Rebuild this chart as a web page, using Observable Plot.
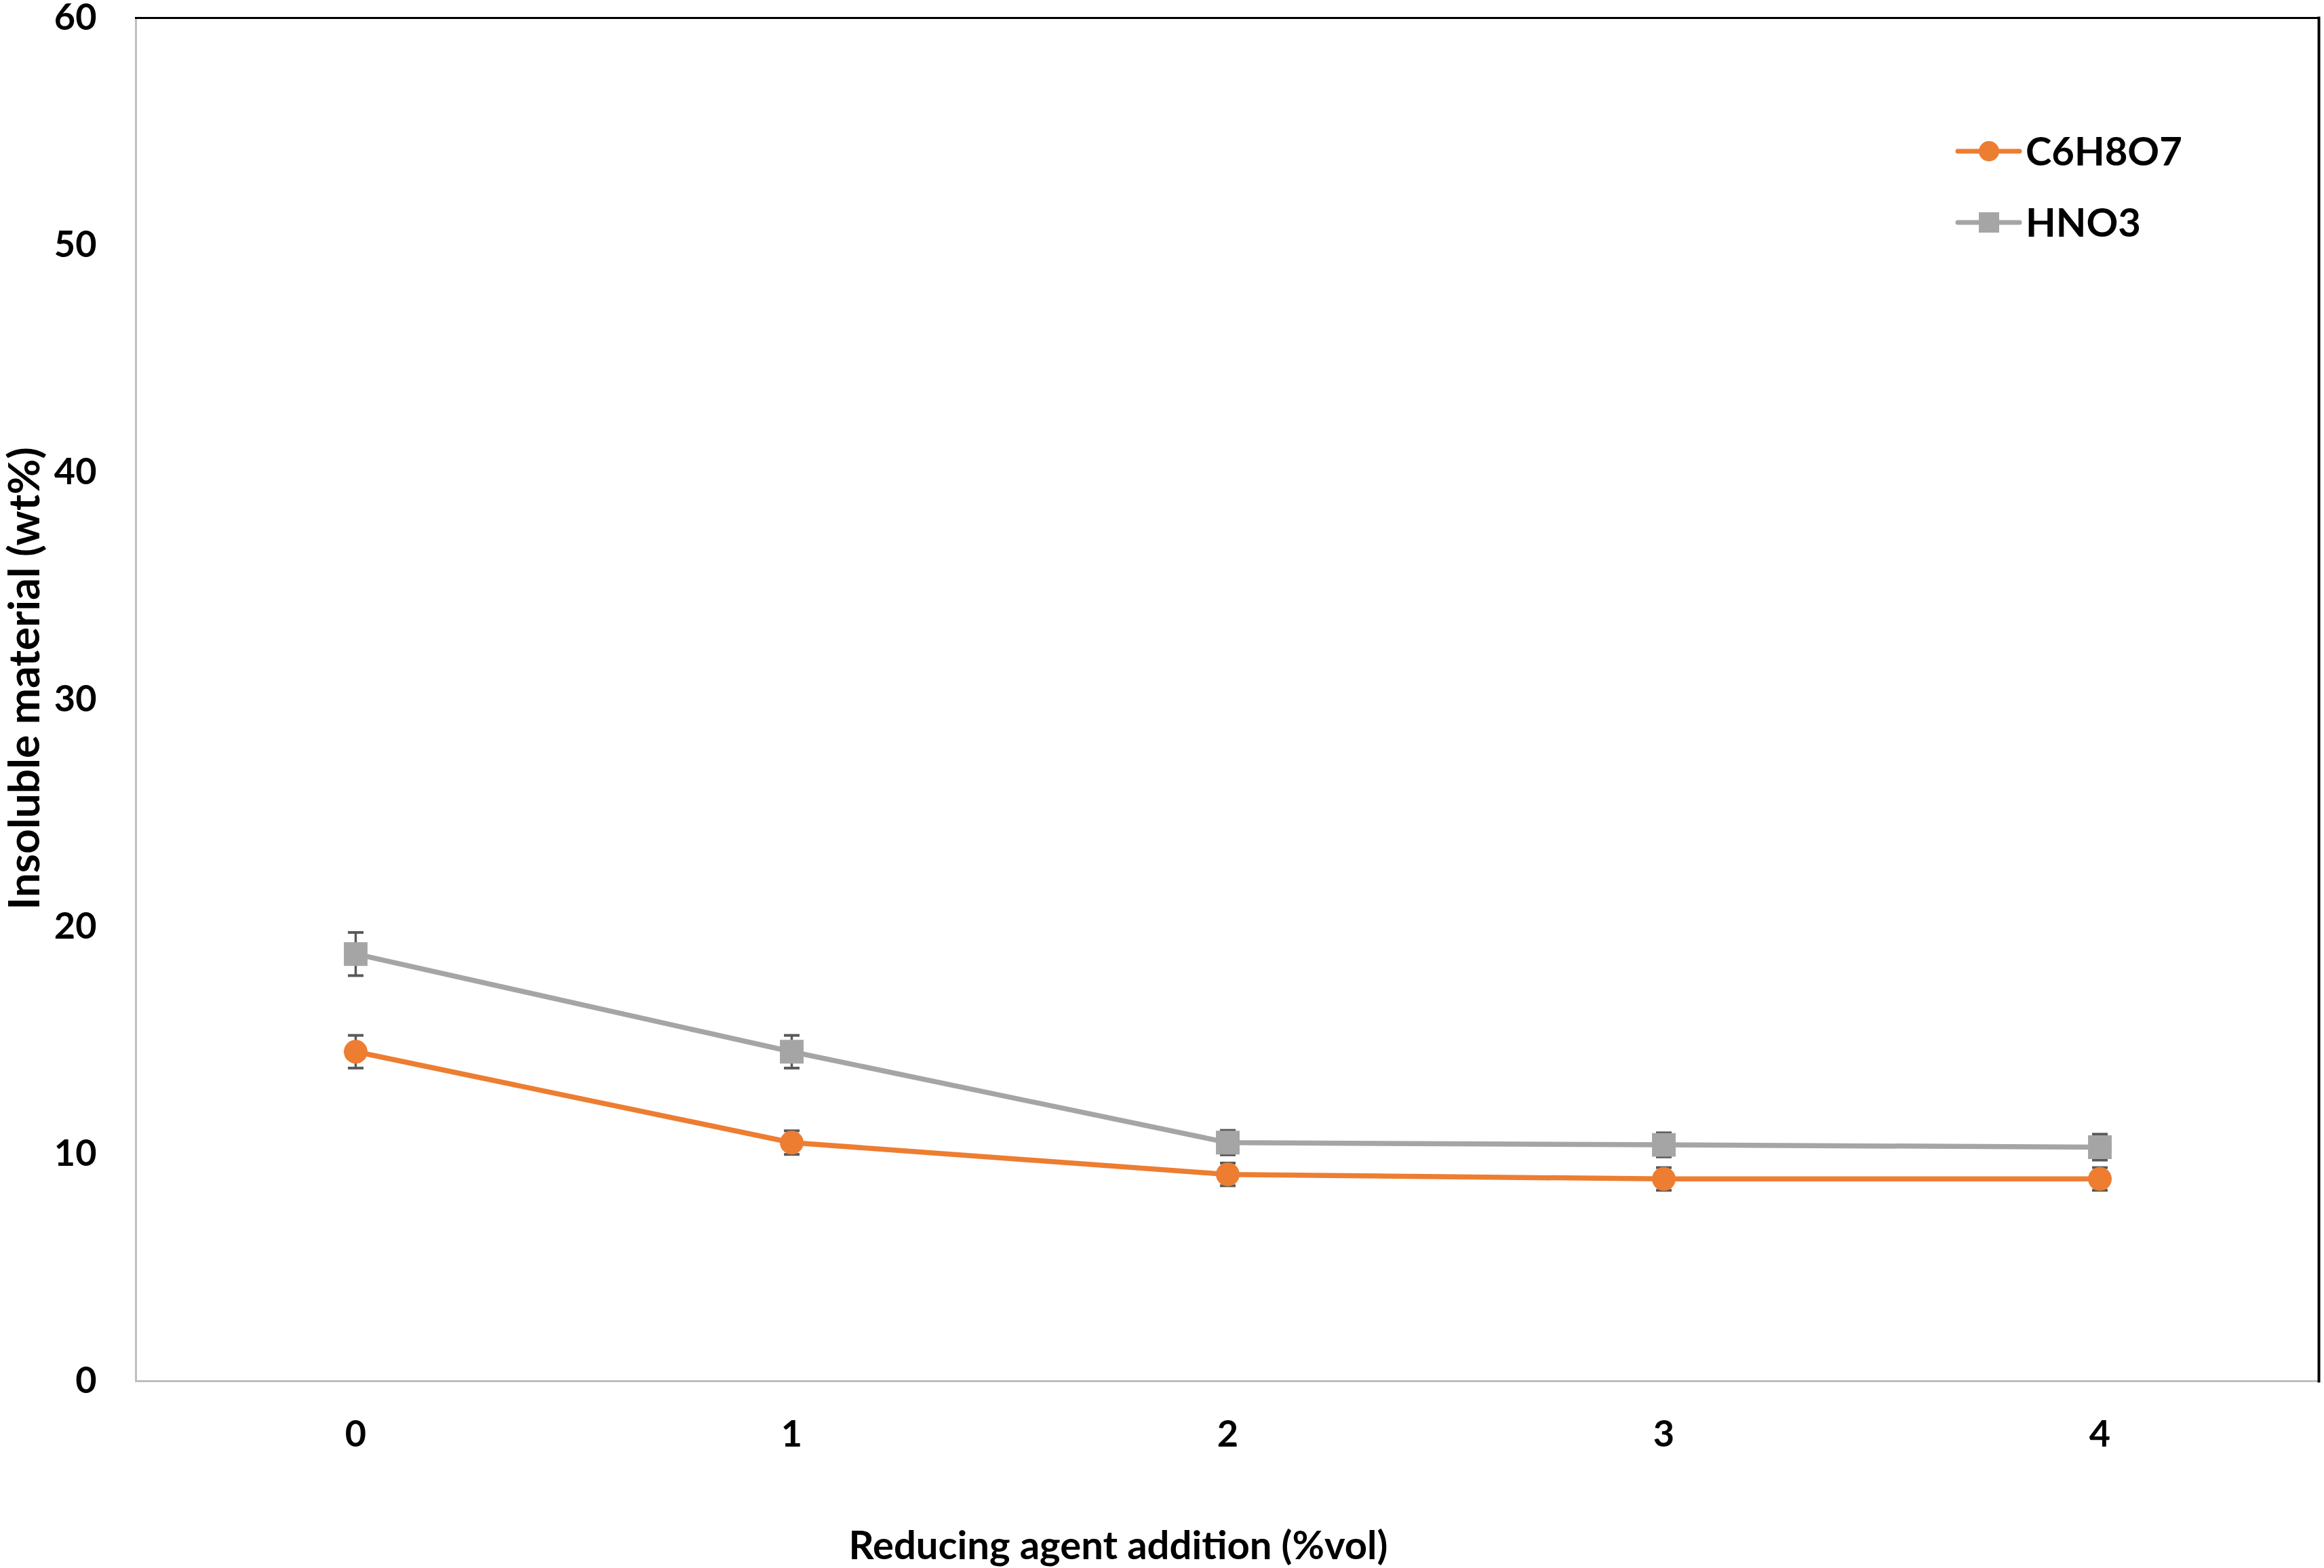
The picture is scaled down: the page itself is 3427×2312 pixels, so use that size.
<!DOCTYPE html>
<html><head><meta charset="utf-8">
<script src="https://cdn.jsdelivr.net/npm/d3@7"></script>
<script src="https://cdn.jsdelivr.net/npm/@observablehq/plot@0.6"></script>
<style>
html,body{margin:0;padding:0;background:#fff;}
#wrap{position:relative;width:3427px;height:2312px;font-family:Lato,"Open Sans",sans-serif;font-weight:700;}
#legend{position:absolute;left:0;top:0;}
</style></head><body><div id="wrap"></div>
<script>
const doses = [0, 1, 2, 3, 4];
const seriesNames = ["C6H8O7", "HNO3"];
const c6h8o7 = [14.5, 10.5, 9.1, 8.9, 8.9];
const c6h8o7Err = [0.72, 0.52, 0.5, 0.5, 0.5];
const hno3 = [18.8, 14.5, 10.5, 10.4, 10.3];
const hno3Err = [0.95, 0.72, 0.54, 0.53, 0.57];
const yTicks = [0, 10, 20, 30, 40, 50, 60];
const xLabel = "Reducing agent addition (%vol)";
const yLabel = "Insoluble material (wt%)";
const colors = ["#ED7D31", "#A5A5A5"];
const errColor = "#595959";

const rows = [];
seriesNames.forEach((s, i) => {
  const v = i ? hno3 : c6h8o7;
  const e = i ? hno3Err : c6h8o7Err;
  doses.forEach((d, j) => rows.push({series: s, x: d, y: v[j], e: e[j]}));
});

const cap = {draw(ctx, size) { const w = Math.sqrt(size / Math.PI); ctx.moveTo(-w, 0); ctx.lineTo(w, 0); }};
const font = "Lato, 'Open Sans', sans-serif";

const chart = Plot.plot({
  width: 3427, height: 2312,
  marginLeft: 200, marginRight: 8, marginTop: 26, marginBottom: 276,
  style: {fontFamily: font, fontWeight: 700, fontSize: "54px", color: "#000", background: "#fff", overflow: "visible"},
  x: {type: "point", domain: doses, padding: 0.5},
  y: {domain: [0, 60]},
  color: {domain: seriesNames, range: colors},
  marks: [
    Plot.frame({anchor: "left", stroke: "#BFBFBF", strokeWidth: 3}),
    Plot.frame({anchor: "bottom", stroke: "#BFBFBF", strokeWidth: 3}),
    Plot.frame({anchor: "top", stroke: "#000", strokeWidth: 3}),
    Plot.frame({anchor: "right", stroke: "#000", strokeWidth: 4}),
    Plot.axisX({ticks: doses, tickSize: 0, tickPadding: 58, label: null}),
    Plot.axisY({ticks: yTicks, tickSize: 0, tickPadding: 58, label: null}),
    Plot.line(rows, {x: "x", y: "y", z: "series", stroke: "series", strokeWidth: 7.5}),
    Plot.ruleX(rows, {x: "x", y1: d => d.y - d.e, y2: d => d.y + d.e, stroke: errColor, strokeWidth: 3.5}),
    Plot.dot(rows, {x: "x", y: d => d.y + d.e, symbol: cap, r: 11.5, stroke: errColor, strokeWidth: 4}),
    Plot.dot(rows, {x: "x", y: d => d.y - d.e, symbol: cap, r: 11.5, stroke: errColor, strokeWidth: 4}),
    Plot.dot(rows.filter(d => d.series === seriesNames[0]), {x: "x", y: "y", symbol: "circle", r: 17.5, fill: "series", stroke: null}),
    Plot.dot(rows.filter(d => d.series === seriesNames[1]), {x: "x", y: "y", symbol: "square", r: 19.7, fill: "series", stroke: null}),
    Plot.text([xLabel], {text: d => d, frameAnchor: "bottom", textAnchor: "middle", lineAnchor: "middle", dx: -161, dy: 244, fontSize: 58, fontWeight: 700}),
    Plot.text([yLabel], {text: d => d, frameAnchor: "left", textAnchor: "middle", lineAnchor: "middle", rotate: -90, dx: -163, dy: -31, fontSize: 64, fontWeight: 700})
  ]
});
const wrap = document.getElementById("wrap");
wrap.appendChild(chart);

// legend
const lg = d3.select(wrap).append("svg").attr("id", "legend").attr("width", 3427).attr("height", 400);
const legendY = [223, 328];
seriesNames.forEach((s, i) => {
  const g = lg.append("g").attr("transform", `translate(0,${legendY[i]})`);
  g.append("line").attr("x1", 2887).attr("x2", 2978).attr("y1", 0).attr("y2", 0)
    .attr("stroke", colors[i]).attr("stroke-width", 7).attr("stroke-linecap", "round");
  if (i === 0) g.append("circle").attr("cx", 2933).attr("cy", 0).attr("r", 15).attr("fill", colors[i]);
  else g.append("rect").attr("x", 2933 - 15).attr("y", -15).attr("width", 30).attr("height", 30).attr("fill", colors[i]);
  g.append("text").attr("x", 2987).attr("y", 0).attr("dy", "0.36em").attr("font-family", font)
    .attr("font-weight", 700).attr("font-size", 58).attr("fill", "#000").text(s);
});
</script></body></html>
